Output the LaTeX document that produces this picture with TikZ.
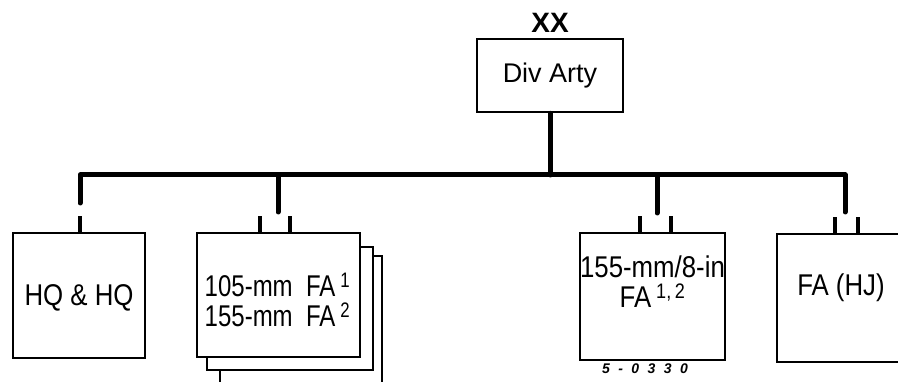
\documentclass[tikz,border=0pt]{standalone}
\usepackage{fontspec}
\setmainfont{Liberation Sans}[FakeStretch=0.86]
\newfontfamily\echelonfont{Liberation Sans}
\newfontfamily\narrowfont{Liberation Sans}[FakeStretch=0.8]
\newfontfamily\tagfont{Liberation Sans}[LetterSpace=60]
\usetikzlibrary{positioning,calc}

\begin{document}
\begin{tikzpicture}[
        x=1pt, y=-1pt,
        every node/.style={font=\fontsize{30}{30}\selectfont},
        unitbox/.style={draw, line width=2.6pt, fill=white, inner sep=0pt},
        boxtext/.style={align=center, inner sep=0pt},
        busline/.style={line width=5pt, line cap=round, line join=round},
        stub/.style={line width=3.4pt}
      ]
      \useasboundingbox (0,0) rectangle (898,382);
      \clip (0,0) rectangle (898,382);

      % headquarters
      \node[unitbox, minimum width=146pt, minimum height=73pt] (divarty) at (550,75.5) {};
      \node[boxtext, font=\echelonfont\fontsize{27}{27}\selectfont] (divartytxt) at (divarty) {Div Arty};
      \node[above=5pt of divarty, inner sep=0pt, font=\echelonfont\bfseries\fontsize{28}{28}\selectfont] (echelon) {XX};

      % subordinate units
      \node[unitbox, minimum width=132pt, minimum height=125pt] (hq) at (79,295.5) {};
      \node[boxtext] (hqtxt) at ($(hq)+(0,2)$) {HQ \& HQ};

      \node[unitbox, minimum width=162pt, minimum height=140pt] (fa105c) at (301,326) {};
      \node[unitbox, minimum width=166pt, minimum height=123pt] (fa105b) at (290,308.5) {};
      \node[unitbox, minimum width=163pt, minimum height=124pt] (fa105) at (278.5,295) {};
      \node[boxtext, font=\narrowfont\fontsize{30}{30}\selectfont] (fa105txt) at ($(fa105)+(-1,5)$)
        {105-mm\ \ FA\,\textsuperscript{1}\\155-mm\ \ FA\,\textsuperscript{2}};

      \node[unitbox, minimum width=145pt, minimum height=127pt] (fa155) at (652.5,296.5) {};
      \node[boxtext] (fa155txt) at ($(fa155)+(0,-15)$)
        {155-mm/8-in\\FA\,\textsuperscript{1,\,2}};
      \node[font=\tagfont\bfseries\itshape\fontsize{14}{14}\selectfont, inner sep=0pt] (tag) at (645,369) {5-0330};

      \node[unitbox, minimum width=138pt, minimum height=128pt] (hj) at (846,298) {};
      \node[boxtext] (hjtxt) at ($(hj)+(-5,-10)$) {FA (HJ)};

      % bus and drops
      \coordinate (bus) at (550,175);
      \coordinate (hqtap) at (80,203);
      \coordinate (fa105tap) at (278,212);
      \coordinate (fa155tap) at (657,213);
      \coordinate (hjtap) at (845,212);

      \draw[busline] (divarty.south) -- (bus);
      \draw[busline] (hqtap) |- (bus) -| (hjtap);
      \draw[busline] (bus -| fa105tap) -- (fa105tap);
      \draw[busline] (bus -| fa155tap) -- (fa155tap);

      % stubs
      \draw[stub] ([xshift=1pt]hq.north) -- ++(0,-16);
      \draw[stub] ([xshift=-18.5pt]fa105.north) -- ++(0,-16);
      \draw[stub] ([xshift=11.5pt]fa105.north) -- ++(0,-16);
      \draw[stub] ([xshift=-12.5pt]fa155.north) -- ++(0,-16);
      \draw[stub] ([xshift=18.5pt]fa155.north) -- ++(0,-16);
      \draw[stub] ([xshift=-11pt]hj.north) -- ++(0,-16);
      \draw[stub] ([xshift=12pt]hj.north) -- ++(0,-16);

    \end{tikzpicture}
\end{document}
